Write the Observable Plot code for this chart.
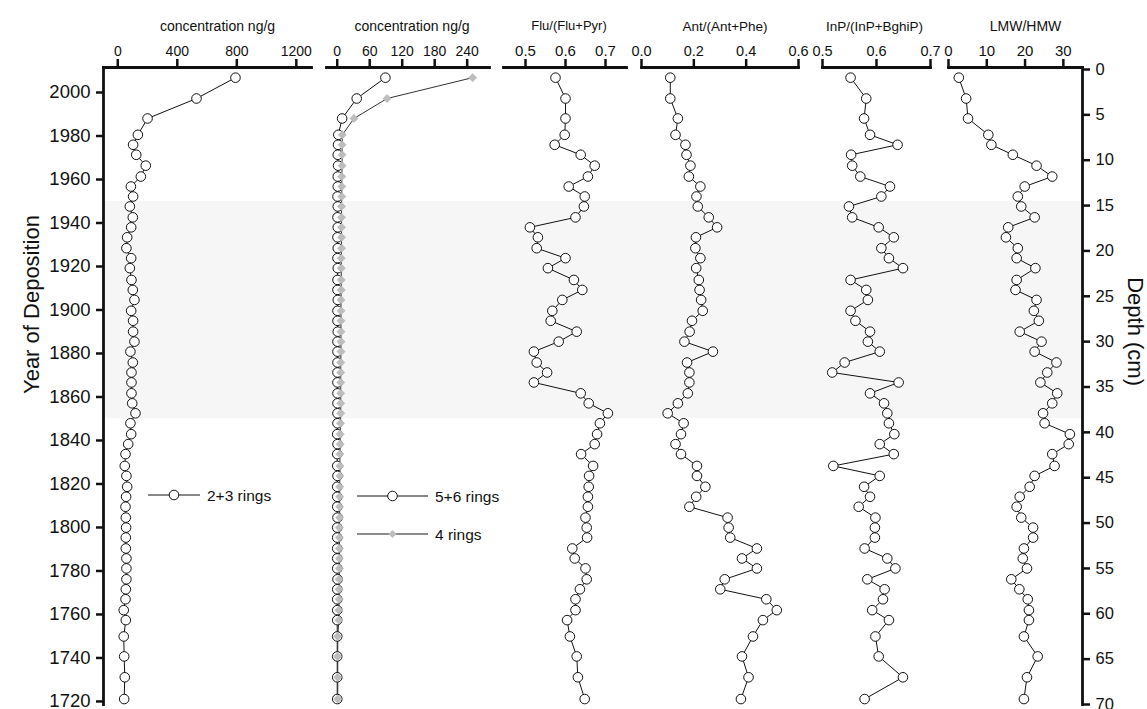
<!DOCTYPE html>
<html><head><meta charset="utf-8">
<script src="https://cdn.jsdelivr.net/npm/d3@7"></script>
<script src="https://cdn.jsdelivr.net/npm/@observablehq/plot@0.6"></script>
<style>
html,body{margin:0;padding:0;background:#fff;}
#chart{position:relative;width:1147px;height:709px;overflow:hidden;font-family:"Liberation Sans",Arial,sans-serif;}
#chart > svg{position:absolute;left:0;top:0;}
</style></head><body><div id="chart"></div>
<script>
// ---- data ----
const depth = [0.9,3.2,5.4,7.2,8.3,9.4,10.6,11.8,12.9,14.0,15.1,16.3,17.4,18.5,19.7,20.8,21.9,23.2,24.3,25.4,26.6,27.7,28.9,30.0,31.1,32.3,33.4,34.5,35.7,36.8,37.9,39.0,40.2,41.3,42.4,43.7,44.8,46.0,47.1,48.2,49.4,50.5,51.6,52.8,53.9,55.0,56.2,57.3,58.4,59.6,60.7,62.5,64.7,67.0,69.4];
const ring23 = [791,529,200,135,103,124,188,155,88,103,81,101,90,63,58,90,81,92,101,112,90,103,103,112,85,101,92,92,92,97,119,85,90,70,52,47,58,63,56,52,54,56,54,54,58,58,58,54,52,40,54,40,43,47,43];
const ring56 = [89,36,9,2,1.5,1,1.5,1,1,0.5,1,0.5,1,0.5,1,0.5,1,0.5,0.5,1,0.5,0.5,1,0.5,0.5,0.5,0.5,0.5,0.5,0.5,0.5,0.5,0,0.5,0,0,0.5,0,0,0,0.5,0,0,0,0,0,0.5,0,0,0,0,0,0,0,0];
const ring4 = [250,92,31,9.5,9,9,9,8.5,8.5,8.5,8,8,8,8,8,7.5,7.5,7.5,7.5,7,7,7,7,7,7,6.5,6.5,6.5,6.5,6.5,6.5,6,5.5,5.5,5,5,5,4.5,4.5,4.5,4.5,4,4,4,4,4,3.5,3.5,3.5,3,3,1,1,1,1];
const flu = [0.575,0.600,0.600,0.598,0.573,0.638,0.673,0.656,0.608,0.648,0.646,0.625,0.511,0.531,0.528,0.600,0.556,0.621,0.642,0.592,0.567,0.563,0.628,0.583,0.521,0.528,0.554,0.521,0.638,0.658,0.706,0.686,0.679,0.673,0.639,0.669,0.659,0.658,0.656,0.656,0.650,0.653,0.654,0.617,0.623,0.650,0.653,0.636,0.625,0.625,0.604,0.611,0.628,0.631,0.648];
const ant = [0.110,0.110,0.139,0.130,0.168,0.172,0.187,0.181,0.225,0.210,0.215,0.257,0.289,0.208,0.206,0.225,0.209,0.219,0.222,0.228,0.234,0.193,0.184,0.164,0.273,0.174,0.183,0.183,0.177,0.139,0.100,0.161,0.151,0.130,0.151,0.212,0.212,0.244,0.209,0.183,0.329,0.333,0.339,0.441,0.384,0.441,0.318,0.301,0.477,0.517,0.464,0.426,0.384,0.409,0.380];
const inp = [0.552,0.581,0.577,0.588,0.639,0.553,0.555,0.570,0.625,0.609,0.549,0.555,0.604,0.632,0.609,0.623,0.649,0.552,0.581,0.584,0.552,0.561,0.588,0.584,0.606,0.541,0.518,0.641,0.588,0.614,0.620,0.623,0.633,0.606,0.632,0.520,0.606,0.577,0.588,0.567,0.598,0.597,0.597,0.578,0.620,0.635,0.583,0.615,0.612,0.592,0.623,0.598,0.604,0.649,0.578];
const lmw = [2.7,4.6,5.1,10.4,11.2,16.8,23.0,27.1,19.9,18.1,19.0,22.5,15.6,15.0,18.1,17.8,22.7,17.8,17.5,23.0,22.3,23.6,18.6,24.3,22.5,28.2,25.8,24.0,28.4,27.1,24.7,25.1,31.7,31.4,27.1,27.7,22.5,21.2,18.6,17.8,19.0,22.1,22.1,19.7,19.4,20.5,16.4,18.5,20.7,21.0,21.0,19.7,23.3,20.5,19.7];

const yearTicks = [1720,1740,1760,1780,1800,1820,1840,1860,1880,1900,1920,1940,1960,1980,2000];
const depthTicks = [0,5,10,15,20,25,30,35,40,45,50,55,60,65,70];
const band = [{from:1850, to:1950}];
const ticks23 = [0,400,800,1200];
const ticks56 = [0,60,120,180,240];
const ticksFlu = [0.5,0.6,0.7];
const ticksAnt = [0.0,0.2,0.4,0.6];
const ticksInp = [0.5,0.6,0.7];
const ticksLmw = [0,10,20,30];

const samples = depth.map((d,i)=>({depth:d, r23:ring23[i], r56:ring56[i], r4:ring4[i], flu:flu[i], ant:ant[i], inp:inp[i], lmw:lmw[i]}));

// ---- layout ----
const W=1147, H=709, MT=67, MB=5;
const depthDomain=[70,-0.22];
const yearDomain=[1718.6,2011.5];
const FONT='"Liberation Sans", Arial, sans-serif';
const chart=document.getElementById("chart");
function place(el){chart.appendChild(el);}
const style={background:"transparent",fontFamily:FONT,overflow:"visible",color:"#111"};

// background: band + year axis
place(Plot.plot({
  width:W,height:H,marginTop:MT,marginBottom:MB,marginLeft:103,marginRight:W-1082,
  style,
  y:{domain:yearDomain, axis:null},
  marks:[
    Plot.rectY(band,{y1:"from",y2:"to",fill:"#f6f6f6"}),
    Plot.frame({anchor:"left",strokeWidth:2.8}),
    Plot.axisY({anchor:"left",ticks:yearTicks,tickFormat:d3.format("d"),tickSize:7,tickPadding:6,fontSize:18.5,strokeWidth:2.5,label:null}),
    Plot.text(["Year of Deposition"],{frameAnchor:"left",dx:-72,dy:8,rotate:-90,fontSize:22})
  ]
}));

function panel({L,R,domain,ticks,fmt,fontSize,title,titleSize,titleDx,marks}){
  return Plot.plot({
    width:W,height:H,marginTop:MT,marginBottom:MB,marginLeft:L,marginRight:W-R,
    style,
    x:{domain,axis:null},
    y:{domain:depthDomain,axis:null},
    marks:[
      Plot.frame({anchor:"top",strokeWidth:2.8}),
      Plot.axisX({anchor:"top",ticks,tickFormat:fmt,tickSize:9,tickPadding:3,fontSize,strokeWidth:2.5,label:null}),
      Plot.text([title],{frameAnchor:"top",dy:-46.5,dx:titleDx,fontSize:titleSize}),
      ...marks
    ]
  });
}
const circ = key => [
  Plot.line(samples,{x:key,y:"depth",stroke:"#111",strokeWidth:1}),
  Plot.dot(samples,{x:key,y:"depth",r:4.8,fill:"white",stroke:"#111",strokeWidth:1})
];
const f1=d3.format(".1f"), fd=d3.format("d");

place(panel({L:103,R:311,domain:[-96,1302],ticks:ticks23,fmt:fd,fontSize:14,title:"concentration ng/g",titleSize:14,titleDx:10,marks:circ("r23")}));
place(panel({L:326,R:489,domain:[-19.8,281.2],ticks:ticks56,fmt:fd,fontSize:14,title:"concentration ng/g",titleSize:14,titleDx:4,marks:[
  Plot.line(samples,{x:"r56",y:"depth",stroke:"#111",strokeWidth:1}),
  Plot.line(samples,{x:"r4",y:"depth",stroke:"#333",strokeWidth:1}),
  Plot.dot(samples,{x:"r56",y:"depth",r:4.8,fill:"white",stroke:"#111",strokeWidth:1}),
  Plot.dot(samples,{x:"r4",y:"depth",r:3.7,symbol:"diamond2",fill:"#bdbdbd",stroke:"#b0b0b0",strokeWidth:0.5})
]}));
place(panel({L:503,R:626,domain:[0.445,0.7525],ticks:ticksFlu,fmt:f1,fontSize:15,title:"Flu/(Flu+Pyr)",titleSize:13,titleDx:4,marks:circ("flu")}));
place(panel({L:641,R:798,domain:[0,0.6],ticks:ticksAnt,fmt:f1,fontSize:14.5,title:"Ant/(Ant+Phe)",titleSize:13.5,titleDx:5,marks:circ("ant")}));
place(panel({L:822,R:930,domain:[0.5,0.7],ticks:ticksInp,fmt:f1,fontSize:14.5,title:"InP/(InP+BghiP)",titleSize:13.5,titleDx:-2,marks:circ("inp")}));
place(panel({L:948,R:1082,domain:[0,35],ticks:ticksLmw,fmt:fd,fontSize:15,title:"LMW/HMW",titleSize:14,titleDx:10,marks:[
  ...circ("lmw"),
  Plot.frame({anchor:"right",strokeWidth:2.8}),
  Plot.axisY({anchor:"right",ticks:depthTicks,tickSize:7,tickPadding:6,fontSize:16.5,strokeWidth:2.5,label:null}),
  Plot.text(["Depth (cm)"],{frameAnchor:"right",dx:53,rotate:90,fontSize:22})
]}));

// ---- legends ----
const lg = d3.create("svg").attr("width",W).attr("height",H).style("position","absolute").style("left",0).style("top",0)
  .style("font-family",FONT).style("font-size","15.5px");
function legendItem(x1,x2,y,label,kind){
  const g=lg.append("g");
  g.append("line").attr("x1",x1).attr("x2",x2).attr("y1",y).attr("y2",y).attr("stroke",kind==="d"?"#666":"#111").attr("stroke-width",kind==="d"?1.3:1);
  const cx=(x1+x2)/2;
  if(kind==="d") g.append("path").attr("d",d3.symbol(d3.symbolDiamond2,42)()).attr("transform",`translate(${cx},${y})`).attr("fill","#bdbdbd");
  else g.append("circle").attr("cx",cx).attr("cy",y).attr("r",4.8).attr("fill","white").attr("stroke","#111");
  g.append("text").attr("x",x2+7).attr("y",y+6).attr("fill","#111").text(label);
}
legendItem(148,200,495,"2+3 rings","c");
legendItem(357,428,496,"5+6 rings","c");
legendItem(357,428,534,"4 rings","d");
place(lg.node());
</script></body></html>
